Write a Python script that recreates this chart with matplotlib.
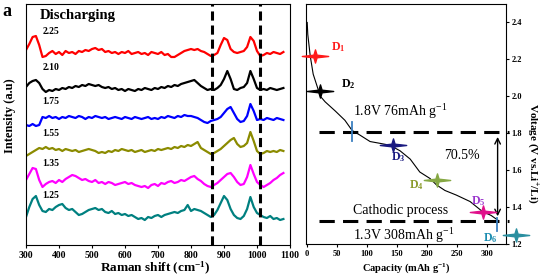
"""
Raman spectra during discharge + discharge voltage profile
"""
import numpy as np
import matplotlib
matplotlib.use("Agg")
import matplotlib.pyplot as plt
from matplotlib.path import Path
from matplotlib.ticker import FormatStrFormatter

plt.rcParams["font.family"] = ["Liberation Serif", "DejaVu Serif"]
plt.rcParams["mathtext.default"] = "regular"

# ---- Raman data (relative intensity, arbitrary units) ----
raman_shift = list(range(300, 1090, 10))

spec_225 = [3, 9, 16, 17, 8, -4, -3, 0, 2, -1, 1, -2, 2, 0, 1, -1, 2, 1, 3, 2,
            4, 5, 3, 4, 1, 2, 0, 1, -1, 1, 0, 2, -1, 0, 1, -1, 0, -2, 1, 0,
            -1, 1, -2, -1, -4, -4, -2, 0, 2, 3, 4, 3, 4, 2, 1, -1, -3, -2, 0, 8,
            15, 13, 4, 1, 0, 1, 2, 6, 16, 12, 2, -3, -2, 0, -1, 1, 0, -1, 1]
spec_210 = [2, 6, 8, 9, 6, 0, -3, -1, -2, 0, -1, 1, 0, 2, 1, 3, 2, 4, 3, 5,
            4, 3, 4, 2, 1, 2, 0, 1, -1, 0, -2, 0, -1, -2, 0, -1, 1, 0, -1, 1,
            0, 2, 1, 3, 2, 4, 3, 5, 6, 7, 8, 9, 6, 3, 1, -1, 0, -1, 1, 4,
            10, 18, 10, 0, -1, 1, 2, 6, 18, 10, 1, -1, 0, -1, 1, 0, -1, 0, 1]
spec_175 = [-6, -7, -5, -7, -6, 2, 1, 3, 1, 2, 0, 2, 1, 3, 2, 1, 3, 2, 0, 2,
            1, 3, 2, 1, 2, 0, 1, 2, 1, 0, 2, 1, 0, 2, 1, 0, 1, 2, 0, 1,
            0, 2, 1, 3, 2, 1, 3, 2, 4, 3, 3, 2, 1, -1, -3, -4, -2, -1, 0, 2,
            6, 10, 12, 6, 0, -3, -2, 3, 15, 8, -1, 0, -1, 1, 0, -1, 1, 0, -1]
spec_155 = [-5, -3, -1, 1, 3, 2, 4, 2, 3, 1, 2, 0, 2, 1, 0, 1, -1, 0, 1, 2,
            1, 0, -2, -1, -2, 0, -1, 1, 0, 2, 1, 0, 1, -1, 0, 1, -1, 0, 1, 0,
            2, 1, 2, 3, 2, 4, 3, 5, 4, 6, 5, 7, 9, 3, 1, -1, -3, -2, 0, 2,
            5, 8, 11, 13, 7, 4, 5, 8, 19, 10, 0, -3, -2, 0, -1, 0, -1, 1, 0]
spec_135 = [2, 8, 14, 13, 2, -5, -2, 0, 1, -1, 2, 0, 3, 5, 7, 6, 4, 2, 3, 1,
            0, 2, -1, 0, -2, 0, -1, -3, -2, -1, 0, -2, -1, -3, -4, -5, -4, -6, -3, -2,
            -4, -1, -2, 0, 1, -1, 0, 2, 1, 3, 5, 6, 3, 1, -2, -4, -5, -3, -1, 2,
            5, 8, 9, 5, 0, -3, -2, 5, 17, 8, 0, -3, -5, -3, -1, 2, 4, 7, 9]
spec_125 = [-4, 6, 14, 17, 8, 2, 1, 4, 3, 6, 8, 9, 5, 3, 4, 1, -2, -1, 1, 3,
            4, 5, 3, 4, 1, 0, 2, -1, 0, -2, -1, -3, -2, -4, -6, -5, -7, -4, -5, -3,
            -2, -4, -2, -1, 0, 1, 0, 2, 3, 8, 2, 4, 3, 2, 0, -2, -4, -2, 3, 10,
            17, 13, 4, -2, -5, -6, -3, 4, 16, 6, 0, -2, -4, -5, -3, -6, -5, -7, -6]

spectra = [spec_225, spec_210, spec_175, spec_155, spec_135, spec_125]
voltages = ["2.25", "2.10", "1.75", "1.55", "1.35", "1.25"]
spec_colors = ["#ff0000", "#000000", "#0000ff", "#8b8b00", "#ff00ff", "#008080"]
offsets = [192, 156, 126, 94, 63, 32]
marker_lines = [865, 1010]

# ---- Discharge curve ----
capacity = [0, 1, 5, 10, 17, 22, 30, 47, 63, 75, 88, 105, 122, 138, 155, 172,
            188, 205, 216, 230, 249, 272, 293, 307, 318]
voltage = [2.40, 2.335, 2.22, 2.12, 2.05, 2.00, 1.97, 1.92, 1.87, 1.815, 1.79,
           1.755, 1.745, 1.735, 1.705, 1.66, 1.59, 1.555, 1.52, 1.49, 1.465,
           1.43, 1.375, 1.355, 1.33]

pt_names = ["D$_1$", "D$_2$", "D$_3$", "D$_4$", "D$_5$", "D$_6$"]
pt_cap = [12.5, 22, 144, 216, 293, 348]
pt_volt = [2.22, 2.03, 1.734, 1.546, 1.372, 1.247]
pt_colors = ["#ff1a1a", "#000000", "#1a1a80", "#86a844", "#e0108a", "#2a8fa0"]
lbl_cap = [51, 68, 152, 183, 285, 305]
lbl_volt = [2.264, 2.066, 1.672, 1.519, 1.43, 1.232]
lbl_colors = ["#ff1a1a", "#000000", "#1a1a80", "#8a9a2a", "#9933cc", "#1a8cb0"]

star = Path([(-1, 0), (-0.12, 0.1), (0, 0.5), (0.12, 0.1), (1, 0),
             (0.12, -0.1), (0, -0.5), (-0.12, -0.1), (-1, 0)],
            [Path.MOVETO] + [Path.LINETO] * 7 + [Path.CLOSEPOLY])

fig = plt.figure(figsize=(5.43, 2.77), dpi=100)
ax1 = fig.add_axes([26 / 543, 32 / 277, 264 / 543, 241 / 277])
ax2 = fig.add_axes([306 / 543, 33 / 277, 200 / 543, 240 / 277])

# left panel
for s, v, c, off in zip(spectra, voltages, spec_colors, offsets):
    ax1.plot(raman_shift, np.array(s) + off, color=c, lw=1.6)
    ax1.text(350, off + 21 if v in ("2.25", "2.10") else off + 18, v,
             fontsize=7, fontweight="bold", va="center")
for xv in marker_lines:
    ax1.axvline(xv, color="black", lw=2.2, dashes=(3, 1.6))
ax1.text(342, 230, "Discharging", fontsize=10.5, fontweight="bold", va="center")
ax1.set_xlim(300, 1100)
ax1.set_ylim(0, 241)
ax1.set_yticks([])
ax1.set_xticks(range(300, 1101, 100))
ax1.tick_params(axis="x", length=2.5, pad=1.5, labelsize=7)
for lb in ax1.get_xticklabels():
    lb.set_fontweight("bold")

# right panel
ax2.plot(capacity, voltage, color="black", lw=0.8)
for yv in [1.808, 1.322]:
    ax2.plot([20, 337], [yv, yv], color="black", lw=2.2, dashes=(5, 2.7),
             clip_on=False)
ax2.plot([75, 75], [1.76, 1.86], color="#3a7fc0", lw=1.3)
ax2.plot([317, 317], [1.27, 1.34], color="#3a7fc0", lw=1.3)
ax2.annotate("", xy=(318, 1.335), xytext=(318, 1.795),
             arrowprops=dict(arrowstyle="<->", color="black", lw=1.0))
for cx, cy, c in zip(pt_cap, pt_volt, pt_colors):
    ax2.plot(cx, cy, marker=star, ms=19, color=c, mec=c, clip_on=False,
             zorder=5)
for n, lx, ly, c in zip(pt_names, lbl_cap, lbl_volt, lbl_colors):
    ax2.text(lx, ly, n, color=c, fontsize=8.5, fontweight="bold",
             ha="center", va="center")
ax2.text(76, 1.915, "1.8V 76mAh g$^{-1}$", fontsize=10, va="center")
ax2.text(258, 1.68, "70.5%", fontsize=10, ha="center", va="center")
ax2.text(77, 1.383, "Cathodic process", fontsize=10, va="center")
ax2.text(77, 1.248, "1.3V 308mAh g$^{-1}$", fontsize=10, va="center")
ax2.set_xlim(-2, 332)
ax2.set_ylim(1.21, 2.50)
ax2.set_xticks(range(0, 301, 50))
ax2.set_yticks([1.2, 1.4, 1.6, 1.8, 2.0, 2.2, 2.4])
ax2.yaxis.set_major_formatter(FormatStrFormatter("%.1f"))
ax2.yaxis.tick_right()
ax2.tick_params(length=2.5, pad=1.5, labelsize=6)
for lb in ax2.get_xticklabels() + ax2.get_yticklabels():
    lb.set_fontweight("bold")

fig.text(2 / 543, 1 - 3 / 277, "a", fontsize=13, fontweight="bold", va="top")
fig.text(10 / 543, 1 - 116 / 277, "Intensity (a.u)", rotation=90,
         fontsize=9, fontweight="bold", ha="center", va="center")
fig.text(155 / 543, 1 - 268 / 277, "Raman shift (cm$^{-1}$)",
         fontsize=9.5, fontweight="bold", ha="center", va="center")
fig.text(406 / 543, 1 - 268 / 277, "Capacity (mAh g$^{-1}$)",
         fontsize=7.5, fontweight="bold", ha="center", va="center")
fig.text(532 / 543, 1 - 153 / 277, "Voltage (V vs.Li$^{+}$/Li)", rotation=270,
         fontsize=8, fontweight="bold", ha="center", va="center")

fig.savefig("out.png", dpi=100)
